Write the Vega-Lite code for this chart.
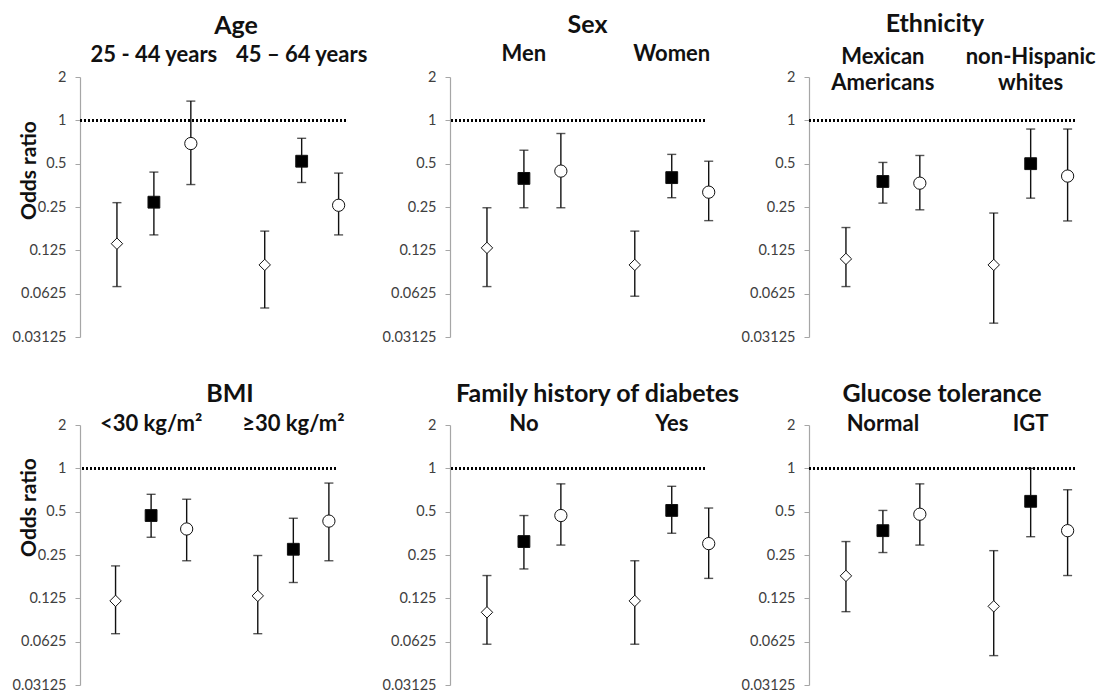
{
  "$schema": "https://vega.github.io/schema/vega-lite/v6.json",
  "bounds": "flush",
  "columns": 3,
  "spacing": {"column": 104, "row": 88},
  "padding": {"left": 12, "top": 11, "right": 3, "bottom": 0},
  "datasets": {
    "points": [
      {"panel": "Age", "group": "25 - 44 years", "series": "Series 1", "pos": 1, "or": 0.139, "lo": 0.070, "hi": 0.268},
      {"panel": "Age", "group": "25 - 44 years", "series": "Series 2", "pos": 2, "or": 0.27, "lo": 0.16, "hi": 0.437},
      {"panel": "Age", "group": "25 - 44 years", "series": "Series 3", "pos": 3, "or": 0.69, "lo": 0.358, "hi": 1.36},
      {"panel": "Age", "group": "45 – 64 years", "series": "Series 1", "pos": 5, "or": 0.099, "lo": 0.0497, "hi": 0.17},
      {"panel": "Age", "group": "45 – 64 years", "series": "Series 2", "pos": 6, "or": 0.52, "lo": 0.37, "hi": 0.75},
      {"panel": "Age", "group": "45 – 64 years", "series": "Series 3", "pos": 7, "or": 0.257, "lo": 0.16, "hi": 0.43},
      {"panel": "Sex", "group": "Men", "series": "Series 1", "pos": 1, "or": 0.13, "lo": 0.070, "hi": 0.247},
      {"panel": "Sex", "group": "Men", "series": "Series 2", "pos": 2, "or": 0.395, "lo": 0.247, "hi": 0.62},
      {"panel": "Sex", "group": "Men", "series": "Series 3", "pos": 3, "or": 0.444, "lo": 0.247, "hi": 0.81},
      {"panel": "Sex", "group": "Women", "series": "Series 1", "pos": 5, "or": 0.099, "lo": 0.06, "hi": 0.17},
      {"panel": "Sex", "group": "Women", "series": "Series 2", "pos": 6, "or": 0.40, "lo": 0.29, "hi": 0.58},
      {"panel": "Sex", "group": "Women", "series": "Series 3", "pos": 7, "or": 0.317, "lo": 0.201, "hi": 0.52},
      {"panel": "Ethnicity", "group": "Mexican Americans", "series": "Series 1", "pos": 1, "or": 0.109, "lo": 0.070, "hi": 0.18},
      {"panel": "Ethnicity", "group": "Mexican Americans", "series": "Series 2", "pos": 2, "or": 0.376, "lo": 0.266, "hi": 0.51},
      {"panel": "Ethnicity", "group": "Mexican Americans", "series": "Series 3", "pos": 3, "or": 0.366, "lo": 0.239, "hi": 0.57},
      {"panel": "Ethnicity", "group": "non-Hispanic whites", "series": "Series 1", "pos": 5, "or": 0.099, "lo": 0.039, "hi": 0.227},
      {"panel": "Ethnicity", "group": "non-Hispanic whites", "series": "Series 2", "pos": 6, "or": 0.50, "lo": 0.288, "hi": 0.87},
      {"panel": "Ethnicity", "group": "non-Hispanic whites", "series": "Series 3", "pos": 7, "or": 0.41, "lo": 0.20, "hi": 0.87},
      {"panel": "BMI", "group": "<30 kg/m²", "series": "Series 1", "pos": 1, "or": 0.12, "lo": 0.071, "hi": 0.21},
      {"panel": "BMI", "group": "<30 kg/m²", "series": "Series 2", "pos": 2, "or": 0.47, "lo": 0.332, "hi": 0.66},
      {"panel": "BMI", "group": "<30 kg/m²", "series": "Series 3", "pos": 3, "or": 0.379, "lo": 0.228, "hi": 0.61},
      {"panel": "BMI", "group": "≥30 kg/m²", "series": "Series 1", "pos": 5, "or": 0.13, "lo": 0.071, "hi": 0.248},
      {"panel": "BMI", "group": "≥30 kg/m²", "series": "Series 2", "pos": 6, "or": 0.274, "lo": 0.161, "hi": 0.45},
      {"panel": "BMI", "group": "≥30 kg/m²", "series": "Series 3", "pos": 7, "or": 0.43, "lo": 0.228, "hi": 0.79},
      {"panel": "Family history of diabetes", "group": "No", "series": "Series 1", "pos": 1, "or": 0.10, "lo": 0.060, "hi": 0.18},
      {"panel": "Family history of diabetes", "group": "No", "series": "Series 2", "pos": 2, "or": 0.31, "lo": 0.20, "hi": 0.47},
      {"panel": "Family history of diabetes", "group": "No", "series": "Series 3", "pos": 3, "or": 0.47, "lo": 0.293, "hi": 0.78},
      {"panel": "Family history of diabetes", "group": "Yes", "series": "Series 1", "pos": 5, "or": 0.12, "lo": 0.060, "hi": 0.228},
      {"panel": "Family history of diabetes", "group": "Yes", "series": "Series 2", "pos": 6, "or": 0.51, "lo": 0.354, "hi": 0.75},
      {"panel": "Family history of diabetes", "group": "Yes", "series": "Series 3", "pos": 7, "or": 0.30, "lo": 0.172, "hi": 0.53},
      {"panel": "Glucose tolerance", "group": "Normal", "series": "Series 1", "pos": 1, "or": 0.179, "lo": 0.101, "hi": 0.31},
      {"panel": "Glucose tolerance", "group": "Normal", "series": "Series 2", "pos": 2, "or": 0.369, "lo": 0.26, "hi": 0.51},
      {"panel": "Glucose tolerance", "group": "Normal", "series": "Series 3", "pos": 3, "or": 0.48, "lo": 0.293, "hi": 0.78},
      {"panel": "Glucose tolerance", "group": "IGT", "series": "Series 1", "pos": 5, "or": 0.11, "lo": 0.050, "hi": 0.268},
      {"panel": "Glucose tolerance", "group": "IGT", "series": "Series 2", "pos": 6, "or": 0.59, "lo": 0.335, "hi": 1.0},
      {"panel": "Glucose tolerance", "group": "IGT", "series": "Series 3", "pos": 7, "or": 0.369, "lo": 0.18, "hi": 0.71}
    ]
  },
  "concat": [
    {
      "width": 266, "height": 260,
      "title": {"text": "Age", "offset": 5, "dx": 23},
      "data": {"name": "points"},
      "transform": [{"filter": "datum.panel === 'Age'"}],
      "layer": [
        {"mark": {"type": "rule", "strokeDash": [2, 2], "strokeWidth": 2.3, "color": "#000"}, "encoding": {"y": {"datum": 1, "type": "quantitative", "scale": {"type": "log", "base": 2, "domain": [0.03125, 2]}, "axis": {"title": "Odds ratio", "titleX": -41, "titleY": 93}}}},
        {"mark": {"type": "rule", "color": "#111", "strokeWidth": 1.4}, "encoding": {"x": {"field": "pos", "type": "quantitative", "scale": {"domain": [0, 7.2]}, "axis": null}, "y": {"field": "lo", "type": "quantitative", "scale": {"type": "log", "base": 2, "domain": [0.03125, 2]}}, "y2": {"field": "hi"}}},
        {"mark": {"type": "tick", "orient": "horizontal", "size": 9, "thickness": 1.4, "color": "#111"}, "encoding": {"x": {"field": "pos", "type": "quantitative", "scale": {"domain": [0, 7.2]}, "axis": null}, "y": {"field": "lo", "type": "quantitative", "scale": {"type": "log", "base": 2, "domain": [0.03125, 2]}}}},
        {"mark": {"type": "tick", "orient": "horizontal", "size": 9, "thickness": 1.4, "color": "#111"}, "encoding": {"x": {"field": "pos", "type": "quantitative", "scale": {"domain": [0, 7.2]}, "axis": null}, "y": {"field": "hi", "type": "quantitative", "scale": {"type": "log", "base": 2, "domain": [0.03125, 2]}}}},
        {"mark": {"type": "point", "filled": true, "opacity": 1, "stroke": "#111"}, "encoding": {"x": {"field": "pos", "type": "quantitative", "scale": {"domain": [0, 7.2]}, "axis": null}, "y": {"field": "or", "type": "quantitative", "scale": {"type": "log", "base": 2, "domain": [0.03125, 2]}}, "shape": {"field": "series", "type": "nominal", "scale": {"domain": ["Series 1", "Series 2", "Series 3"], "range": ["diamond", "square", "circle"]}, "legend": null}, "fill": {"field": "series", "type": "nominal", "scale": {"domain": ["Series 1", "Series 2", "Series 3"], "range": ["#ffffff", "#000000", "#ffffff"]}, "legend": null}, "size": {"field": "series", "type": "ordinal", "scale": {"domain": ["Series 1", "Series 2", "Series 3"], "range": [130, 150, 150]}, "legend": null}, "strokeWidth": {"field": "series", "type": "ordinal", "scale": {"domain": ["Series 1", "Series 2", "Series 3"], "range": [1, 1, 1.5]}, "legend": null}}},
        {"transform": [{"aggregate": [{"op": "mean", "field": "pos", "as": "center"}], "groupby": ["group"]}], "mark": {"type": "text"}, "encoding": {"x": {"field": "center", "type": "quantitative", "scale": {"domain": [0, 7.2]}, "axis": null}, "y": {"datum": 2.86, "type": "quantitative", "scale": {"type": "log", "base": 2, "domain": [0.03125, 2]}}, "text": {"field": "group"}}}
      ]
    },
    {
      "width": 255, "height": 260,
      "title": {"text": "Sex", "offset": 5, "dx": 10},
      "data": {"name": "points"},
      "transform": [{"filter": "datum.panel === 'Sex'"}],
      "layer": [
        {"mark": {"type": "rule", "strokeDash": [2, 2], "strokeWidth": 2.3, "color": "#000"}, "encoding": {"y": {"datum": 1, "type": "quantitative", "scale": {"type": "log", "base": 2, "domain": [0.03125, 2]}, "axis": {"title": null}}}},
        {"mark": {"type": "rule", "color": "#111", "strokeWidth": 1.4}, "encoding": {"x": {"field": "pos", "type": "quantitative", "scale": {"domain": [0, 6.9]}, "axis": null}, "y": {"field": "lo", "type": "quantitative", "scale": {"type": "log", "base": 2, "domain": [0.03125, 2]}}, "y2": {"field": "hi"}}},
        {"mark": {"type": "tick", "orient": "horizontal", "size": 9, "thickness": 1.4, "color": "#111"}, "encoding": {"x": {"field": "pos", "type": "quantitative", "scale": {"domain": [0, 6.9]}, "axis": null}, "y": {"field": "lo", "type": "quantitative", "scale": {"type": "log", "base": 2, "domain": [0.03125, 2]}}}},
        {"mark": {"type": "tick", "orient": "horizontal", "size": 9, "thickness": 1.4, "color": "#111"}, "encoding": {"x": {"field": "pos", "type": "quantitative", "scale": {"domain": [0, 6.9]}, "axis": null}, "y": {"field": "hi", "type": "quantitative", "scale": {"type": "log", "base": 2, "domain": [0.03125, 2]}}}},
        {"mark": {"type": "point", "filled": true, "opacity": 1, "stroke": "#111"}, "encoding": {"x": {"field": "pos", "type": "quantitative", "scale": {"domain": [0, 6.9]}, "axis": null}, "y": {"field": "or", "type": "quantitative", "scale": {"type": "log", "base": 2, "domain": [0.03125, 2]}}, "shape": {"field": "series", "type": "nominal", "scale": {"domain": ["Series 1", "Series 2", "Series 3"], "range": ["diamond", "square", "circle"]}, "legend": null}, "fill": {"field": "series", "type": "nominal", "scale": {"domain": ["Series 1", "Series 2", "Series 3"], "range": ["#ffffff", "#000000", "#ffffff"]}, "legend": null}, "size": {"field": "series", "type": "ordinal", "scale": {"domain": ["Series 1", "Series 2", "Series 3"], "range": [130, 150, 150]}, "legend": null}, "strokeWidth": {"field": "series", "type": "ordinal", "scale": {"domain": ["Series 1", "Series 2", "Series 3"], "range": [1, 1, 1.5]}, "legend": null}}},
        {"transform": [{"aggregate": [{"op": "mean", "field": "pos", "as": "center"}], "groupby": ["group"]}], "mark": {"type": "text"}, "encoding": {"x": {"field": "center", "type": "quantitative", "scale": {"domain": [0, 6.9]}, "axis": null}, "y": {"datum": 2.9, "type": "quantitative", "scale": {"type": "log", "base": 2, "domain": [0.03125, 2]}}, "text": {"field": "group"}}}
      ]
    },
    {
      "width": 266, "height": 260,
      "title": {"text": "Ethnicity", "offset": 9, "dx": -7},
      "data": {"name": "points"},
      "transform": [{"filter": "datum.panel === 'Ethnicity'"}],
      "layer": [
        {"mark": {"type": "rule", "strokeDash": [2, 2], "strokeWidth": 2.3, "color": "#000"}, "encoding": {"y": {"datum": 1, "type": "quantitative", "scale": {"type": "log", "base": 2, "domain": [0.03125, 2]}, "axis": {"title": null}}}},
        {"mark": {"type": "rule", "color": "#111", "strokeWidth": 1.4}, "encoding": {"x": {"field": "pos", "type": "quantitative", "scale": {"domain": [0, 7.2]}, "axis": null}, "y": {"field": "lo", "type": "quantitative", "scale": {"type": "log", "base": 2, "domain": [0.03125, 2]}}, "y2": {"field": "hi"}}},
        {"mark": {"type": "tick", "orient": "horizontal", "size": 9, "thickness": 1.4, "color": "#111"}, "encoding": {"x": {"field": "pos", "type": "quantitative", "scale": {"domain": [0, 7.2]}, "axis": null}, "y": {"field": "lo", "type": "quantitative", "scale": {"type": "log", "base": 2, "domain": [0.03125, 2]}}}},
        {"mark": {"type": "tick", "orient": "horizontal", "size": 9, "thickness": 1.4, "color": "#111"}, "encoding": {"x": {"field": "pos", "type": "quantitative", "scale": {"domain": [0, 7.2]}, "axis": null}, "y": {"field": "hi", "type": "quantitative", "scale": {"type": "log", "base": 2, "domain": [0.03125, 2]}}}},
        {"mark": {"type": "point", "filled": true, "opacity": 1, "stroke": "#111"}, "encoding": {"x": {"field": "pos", "type": "quantitative", "scale": {"domain": [0, 7.2]}, "axis": null}, "y": {"field": "or", "type": "quantitative", "scale": {"type": "log", "base": 2, "domain": [0.03125, 2]}}, "shape": {"field": "series", "type": "nominal", "scale": {"domain": ["Series 1", "Series 2", "Series 3"], "range": ["diamond", "square", "circle"]}, "legend": null}, "fill": {"field": "series", "type": "nominal", "scale": {"domain": ["Series 1", "Series 2", "Series 3"], "range": ["#ffffff", "#000000", "#ffffff"]}, "legend": null}, "size": {"field": "series", "type": "ordinal", "scale": {"domain": ["Series 1", "Series 2", "Series 3"], "range": [130, 150, 150]}, "legend": null}, "strokeWidth": {"field": "series", "type": "ordinal", "scale": {"domain": ["Series 1", "Series 2", "Series 3"], "range": [1, 1, 1.5]}, "legend": null}}},
        {"transform": [{"aggregate": [{"op": "mean", "field": "pos", "as": "center"}], "groupby": ["group"]}], "mark": {"type": "text", "lineBreak": " ", "lineHeight": 26}, "encoding": {"x": {"field": "center", "type": "quantitative", "scale": {"domain": [0, 7.2]}, "axis": null}, "y": {"datum": 2.76, "type": "quantitative", "scale": {"type": "log", "base": 2, "domain": [0.03125, 2]}}, "text": {"field": "group"}}}
      ]
    },
    {
      "width": 256, "height": 260,
      "title": {"text": "BMI", "offset": 6, "dx": 22},
      "data": {"name": "points"},
      "transform": [{"filter": "datum.panel === 'BMI'"}],
      "layer": [
        {"mark": {"type": "rule", "strokeDash": [2, 2], "strokeWidth": 2.3, "color": "#000"}, "encoding": {"y": {"datum": 1, "type": "quantitative", "scale": {"type": "log", "base": 2, "domain": [0.03125, 2]}, "axis": {"title": "Odds ratio", "titleX": -41, "titleY": 82}}}},
        {"mark": {"type": "rule", "color": "#111", "strokeWidth": 1.4}, "encoding": {"x": {"field": "pos", "type": "quantitative", "scale": {"domain": [0, 7.2]}, "axis": null}, "y": {"field": "lo", "type": "quantitative", "scale": {"type": "log", "base": 2, "domain": [0.03125, 2]}}, "y2": {"field": "hi"}}},
        {"mark": {"type": "tick", "orient": "horizontal", "size": 9, "thickness": 1.4, "color": "#111"}, "encoding": {"x": {"field": "pos", "type": "quantitative", "scale": {"domain": [0, 7.2]}, "axis": null}, "y": {"field": "lo", "type": "quantitative", "scale": {"type": "log", "base": 2, "domain": [0.03125, 2]}}}},
        {"mark": {"type": "tick", "orient": "horizontal", "size": 9, "thickness": 1.4, "color": "#111"}, "encoding": {"x": {"field": "pos", "type": "quantitative", "scale": {"domain": [0, 7.2]}, "axis": null}, "y": {"field": "hi", "type": "quantitative", "scale": {"type": "log", "base": 2, "domain": [0.03125, 2]}}}},
        {"mark": {"type": "point", "filled": true, "opacity": 1, "stroke": "#111"}, "encoding": {"x": {"field": "pos", "type": "quantitative", "scale": {"domain": [0, 7.2]}, "axis": null}, "y": {"field": "or", "type": "quantitative", "scale": {"type": "log", "base": 2, "domain": [0.03125, 2]}}, "shape": {"field": "series", "type": "nominal", "scale": {"domain": ["Series 1", "Series 2", "Series 3"], "range": ["diamond", "square", "circle"]}, "legend": null}, "fill": {"field": "series", "type": "nominal", "scale": {"domain": ["Series 1", "Series 2", "Series 3"], "range": ["#ffffff", "#000000", "#ffffff"]}, "legend": null}, "size": {"field": "series", "type": "ordinal", "scale": {"domain": ["Series 1", "Series 2", "Series 3"], "range": [130, 150, 150]}, "legend": null}, "strokeWidth": {"field": "series", "type": "ordinal", "scale": {"domain": ["Series 1", "Series 2", "Series 3"], "range": [1, 1, 1.5]}, "legend": null}}},
        {"transform": [{"aggregate": [{"op": "mean", "field": "pos", "as": "center"}], "groupby": ["group"]}], "mark": {"type": "text"}, "encoding": {"x": {"field": "center", "type": "quantitative", "scale": {"domain": [0, 7.2]}, "axis": null}, "y": {"datum": 2.03, "type": "quantitative", "scale": {"type": "log", "base": 2, "domain": [0.03125, 2]}}, "text": {"field": "group"}}}
      ]
    },
    {
      "width": 255, "height": 260,
      "title": {"text": "Family history of diabetes", "offset": 6, "dx": 20},
      "data": {"name": "points"},
      "transform": [{"filter": "datum.panel === 'Family history of diabetes'"}],
      "layer": [
        {"mark": {"type": "rule", "strokeDash": [2, 2], "strokeWidth": 2.3, "color": "#000"}, "encoding": {"y": {"datum": 1, "type": "quantitative", "scale": {"type": "log", "base": 2, "domain": [0.03125, 2]}, "axis": {"title": null}}}},
        {"mark": {"type": "rule", "color": "#111", "strokeWidth": 1.4}, "encoding": {"x": {"field": "pos", "type": "quantitative", "scale": {"domain": [0, 6.9]}, "axis": null}, "y": {"field": "lo", "type": "quantitative", "scale": {"type": "log", "base": 2, "domain": [0.03125, 2]}}, "y2": {"field": "hi"}}},
        {"mark": {"type": "tick", "orient": "horizontal", "size": 9, "thickness": 1.4, "color": "#111"}, "encoding": {"x": {"field": "pos", "type": "quantitative", "scale": {"domain": [0, 6.9]}, "axis": null}, "y": {"field": "lo", "type": "quantitative", "scale": {"type": "log", "base": 2, "domain": [0.03125, 2]}}}},
        {"mark": {"type": "tick", "orient": "horizontal", "size": 9, "thickness": 1.4, "color": "#111"}, "encoding": {"x": {"field": "pos", "type": "quantitative", "scale": {"domain": [0, 6.9]}, "axis": null}, "y": {"field": "hi", "type": "quantitative", "scale": {"type": "log", "base": 2, "domain": [0.03125, 2]}}}},
        {"mark": {"type": "point", "filled": true, "opacity": 1, "stroke": "#111"}, "encoding": {"x": {"field": "pos", "type": "quantitative", "scale": {"domain": [0, 6.9]}, "axis": null}, "y": {"field": "or", "type": "quantitative", "scale": {"type": "log", "base": 2, "domain": [0.03125, 2]}}, "shape": {"field": "series", "type": "nominal", "scale": {"domain": ["Series 1", "Series 2", "Series 3"], "range": ["diamond", "square", "circle"]}, "legend": null}, "fill": {"field": "series", "type": "nominal", "scale": {"domain": ["Series 1", "Series 2", "Series 3"], "range": ["#ffffff", "#000000", "#ffffff"]}, "legend": null}, "size": {"field": "series", "type": "ordinal", "scale": {"domain": ["Series 1", "Series 2", "Series 3"], "range": [130, 150, 150]}, "legend": null}, "strokeWidth": {"field": "series", "type": "ordinal", "scale": {"domain": ["Series 1", "Series 2", "Series 3"], "range": [1, 1, 1.5]}, "legend": null}}},
        {"transform": [{"aggregate": [{"op": "mean", "field": "pos", "as": "center"}], "groupby": ["group"]}], "mark": {"type": "text"}, "encoding": {"x": {"field": "center", "type": "quantitative", "scale": {"domain": [0, 6.9]}, "axis": null}, "y": {"datum": 2.03, "type": "quantitative", "scale": {"type": "log", "base": 2, "domain": [0.03125, 2]}}, "text": {"field": "group"}}}
      ]
    },
    {
      "width": 266, "height": 260,
      "title": {"text": "Glucose tolerance", "offset": 6, "dx": 0},
      "data": {"name": "points"},
      "transform": [{"filter": "datum.panel === 'Glucose tolerance'"}],
      "layer": [
        {"mark": {"type": "rule", "strokeDash": [2, 2], "strokeWidth": 2.3, "color": "#000"}, "encoding": {"y": {"datum": 1, "type": "quantitative", "scale": {"type": "log", "base": 2, "domain": [0.03125, 2]}, "axis": {"title": null}}}},
        {"mark": {"type": "rule", "color": "#111", "strokeWidth": 1.4}, "encoding": {"x": {"field": "pos", "type": "quantitative", "scale": {"domain": [0, 7.2]}, "axis": null}, "y": {"field": "lo", "type": "quantitative", "scale": {"type": "log", "base": 2, "domain": [0.03125, 2]}}, "y2": {"field": "hi"}}},
        {"mark": {"type": "tick", "orient": "horizontal", "size": 9, "thickness": 1.4, "color": "#111"}, "encoding": {"x": {"field": "pos", "type": "quantitative", "scale": {"domain": [0, 7.2]}, "axis": null}, "y": {"field": "lo", "type": "quantitative", "scale": {"type": "log", "base": 2, "domain": [0.03125, 2]}}}},
        {"mark": {"type": "tick", "orient": "horizontal", "size": 9, "thickness": 1.4, "color": "#111"}, "encoding": {"x": {"field": "pos", "type": "quantitative", "scale": {"domain": [0, 7.2]}, "axis": null}, "y": {"field": "hi", "type": "quantitative", "scale": {"type": "log", "base": 2, "domain": [0.03125, 2]}}}},
        {"mark": {"type": "point", "filled": true, "opacity": 1, "stroke": "#111"}, "encoding": {"x": {"field": "pos", "type": "quantitative", "scale": {"domain": [0, 7.2]}, "axis": null}, "y": {"field": "or", "type": "quantitative", "scale": {"type": "log", "base": 2, "domain": [0.03125, 2]}}, "shape": {"field": "series", "type": "nominal", "scale": {"domain": ["Series 1", "Series 2", "Series 3"], "range": ["diamond", "square", "circle"]}, "legend": null}, "fill": {"field": "series", "type": "nominal", "scale": {"domain": ["Series 1", "Series 2", "Series 3"], "range": ["#ffffff", "#000000", "#ffffff"]}, "legend": null}, "size": {"field": "series", "type": "ordinal", "scale": {"domain": ["Series 1", "Series 2", "Series 3"], "range": [130, 150, 150]}, "legend": null}, "strokeWidth": {"field": "series", "type": "ordinal", "scale": {"domain": ["Series 1", "Series 2", "Series 3"], "range": [1, 1, 1.5]}, "legend": null}}},
        {"transform": [{"aggregate": [{"op": "mean", "field": "pos", "as": "center"}], "groupby": ["group"]}], "mark": {"type": "text"}, "encoding": {"x": {"field": "center", "type": "quantitative", "scale": {"domain": [0, 7.2]}, "axis": null}, "y": {"datum": 2.03, "type": "quantitative", "scale": {"type": "log", "base": 2, "domain": [0.03125, 2]}}, "text": {"field": "group"}}}
      ]
    }
  ],
  "config": {
    "font": "Lato",
    "view": {"stroke": null},
    "title": {"font": "Lato", "fontSize": 25, "fontWeight": "bold", "color": "#111", "anchor": "middle", "frame": "group"},
    "text": {"font": "Lato", "fontSize": 22, "fontWeight": "bold", "color": "#111", "baseline": "middle"},
    "axisY": {
      "values": [0.03125, 0.0625, 0.125, 0.25, 0.5, 1, 2],
      "format": ".5~g",
      "grid": false,
      "domainColor": "#a6a6a6",
      "domainWidth": 1.2,
      "tickColor": "#a6a6a6",
      "tickSize": 5,
      "labelColor": "#404040",
      "labelFont": "Lato",
      "labelFontSize": 14.5,
      "labelPadding": 9,
      "titleFont": "Lato",
      "titleFontSize": 21,
      "titleFontWeight": "bold",
      "titleColor": "#111"
    }
  }
}
